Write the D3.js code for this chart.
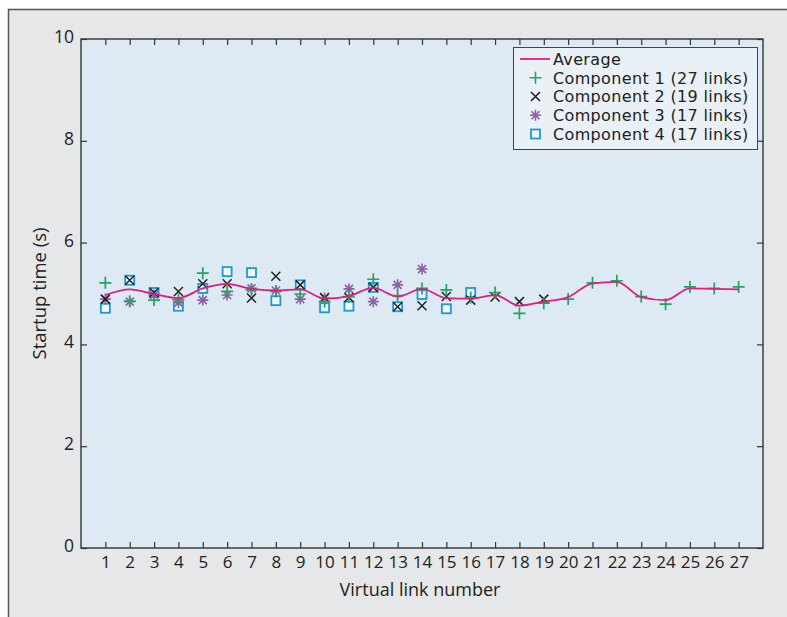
<!DOCTYPE html>
<html>
<head>
<meta charset="utf-8">
<script src="https://cdn.jsdelivr.net/npm/d3@7"></script>
<style>
  body { margin: 0; background: #ffffff; }
  svg { display: block; }
</style>
</head>
<body>
<svg id="chart" width="787" height="617"></svg>
<script>
// Virtual link numbers on the x axis
const links = d3.range(1, 28);
const xTickLabels = links.map(String);
const yTicks = [0, 2, 4, 6, 8, 10];

// Startup time (s), one value per virtual link
const averageTime = [4.97, 5.08, 4.99, 4.91, 5.10, 5.19, 5.09, 5.06, 5.08, 4.90,
                     4.95, 5.11, 4.94, 5.09, 4.91, 4.90, 4.97, 4.76, 4.84, 4.93,
                     5.20, 5.23, 4.93, 4.87, 5.10, 5.09, 5.08];
const component1 = [5.21, 4.85, 4.87, 4.88, 5.40, 5.04, 5.07, 5.04, 4.99, 4.84,
                    4.94, 5.28, 4.96, 5.10, 5.07, 4.92, 5.02, 4.61, 4.81, 4.89,
                    5.21, 5.25, 4.94, 4.79, 5.13, 5.10, 5.13];
const component2 = [4.89, 5.26, 5.02, 5.04, 5.19, 5.19, 4.91, 5.34, 5.17, 4.92,
                    4.92, 5.12, 4.74, 4.76, 4.94, 4.87, 4.93, 4.84, 4.89];
const component3 = [4.89, 4.84, 4.97, 4.82, 4.87, 4.97, 5.10, 5.06, 4.89, 4.91,
                    5.09, 4.84, 5.17, 5.48];
const component4 = [4.71, 5.26, 5.02, 4.75, 5.10, 5.43, 5.41, 4.86, 5.17, 4.72,
                     4.75, 5.12, 4.74, 4.98, 4.70, 5.02];

const legendLabels = ["Average", "Component 1 (27 links)", "Component 2 (19 links)",
                      "Component 3 (17 links)", "Component 4 (17 links)"];

const colors = {
  average: "#e8197d",
  c1: "#1fa55f",
  c2: "#222222",
  c3: "#8c5fa8",
  c4: "#1b9ad6"
};

// marker shapes centred on the origin
const markerPaths = {
  plus: "M-6,0H6M0,-6V6",
  cross: "M-4.5,-4.5L4.5,4.5M-4.5,4.5L4.5,-4.5",
  star: "M-5.5,0H5.5M0,-5.5V5.5M-4,-4L4,4M-4,4L4,-4"
};

const svg = d3.select("#chart");
const bodyFont = "'Open Sans', 'Noto Sans', sans-serif";
const legendFont = "'DejaVu Sans', sans-serif";

// outer panel
svg.append("rect")
  .attr("x", 8.5).attr("y", 9.5)
  .attr("width", 820).attr("height", 640)
  .attr("fill", "#e6e7e8")
  .attr("stroke", "#555")
  .attr("stroke-width", 1.5);

const plot = { left: 81, top: 39, right: 763, bottom: 548 };

const x = d3.scaleLinear().domain([0, 28]).range([plot.left, plot.right]);
const y = d3.scaleLinear().domain([0, 10]).range([plot.bottom, plot.top]);

svg.append("rect")
  .attr("x", plot.left).attr("y", plot.top)
  .attr("width", plot.right - plot.left)
  .attr("height", plot.bottom - plot.top)
  .attr("fill", "#dde9f3");

// axes: inward ticks on all four sides
const bottomAxis = svg.append("g")
  .attr("transform", `translate(0,${plot.bottom})`)
  .call(d3.axisBottom(x).tickValues(links).tickFormat((d, i) => xTickLabels[i])
        .tickSizeInner(-6).tickSizeOuter(0).tickPadding(8));
bottomAxis.selectAll("text")
  .attr("font-family", bodyFont)
  .attr("font-size", 17)
  .attr("fill", "#222");

svg.append("g")
  .attr("transform", `translate(0,${plot.top})`)
  .call(d3.axisTop(x).tickValues(links).tickFormat("")
        .tickSizeInner(-6).tickSizeOuter(0));

const leftAxis = svg.append("g")
  .attr("transform", `translate(${plot.left},0)`)
  .call(d3.axisLeft(y).tickValues(yTicks).tickFormat(d3.format("d"))
        .tickSizeInner(-6).tickSizeOuter(0).tickPadding(7));
leftAxis.selectAll("text")
  .attr("font-family", bodyFont)
  .attr("font-size", 17.5)
  .attr("dy", "0.2em")
  .attr("fill", "#222");

svg.append("g")
  .attr("transform", `translate(${plot.right},0)`)
  .call(d3.axisRight(y).tickValues(yTicks).tickFormat("")
        .tickSizeInner(-6).tickSizeOuter(0));

svg.selectAll(".domain").remove();
svg.selectAll(".tick line").attr("stroke", "#333").attr("stroke-width", 1.2);

// plot frame
svg.append("rect")
  .attr("x", plot.left).attr("y", plot.top)
  .attr("width", plot.right - plot.left)
  .attr("height", plot.bottom - plot.top)
  .attr("fill", "none")
  .attr("stroke", "#333")
  .attr("stroke-width", 1.4);

// axis titles
svg.append("text")
  .attr("x", 420)
  .attr("y", 596)
  .attr("text-anchor", "middle")
  .attr("font-family", bodyFont)
  .attr("font-size", 18)
  .attr("fill", "#222")
  .text("Virtual link number");

svg.append("text")
  .attr("transform", `translate(46,${(plot.top + plot.bottom) / 2}) rotate(-90)`)
  .attr("text-anchor", "middle")
  .attr("font-family", bodyFont)
  .attr("font-size", 18.5)
  .attr("fill", "#222")
  .text("Startup time (s)");

// data layers
const layer = svg.append("g");

// component 4: open squares
layer.append("g").selectAll("rect")
  .data(component4)
  .join("rect")
  .attr("x", (d, i) => x(links[i]) - 4.5)
  .attr("y", d => y(d) - 4.5)
  .attr("width", 9).attr("height", 9)
  .attr("fill", "#f3f7fb")
  .attr("stroke", colors.c4)
  .attr("stroke-width", 1.8);

function drawMarkers(values, shape, color, width) {
  layer.append("g").selectAll("path")
    .data(values)
    .join("path")
    .attr("transform", (d, i) => `translate(${x(links[i])},${y(d)})`)
    .attr("d", markerPaths[shape])
    .attr("fill", "none")
    .attr("stroke", color)
    .attr("stroke-width", width);
}

drawMarkers(component3, "star", colors.c3, 1.6);
drawMarkers(component2, "cross", colors.c2, 1.5);
drawMarkers(component1, "plus", colors.c1, 1.7);

// average startup time
const line = d3.line()
  .x((d, i) => x(links[i]))
  .y(d => y(d))
  .curve(d3.curveMonotoneX);

layer.append("path")
  .datum(averageTime)
  .attr("d", line)
  .attr("fill", "none")
  .attr("stroke", colors.average)
  .attr("stroke-width", 1.8);

// legend
const legend = svg.append("g");
legend.append("rect")
  .attr("x", 513.5).attr("y", 47.5)
  .attr("width", 244).attr("height", 102)
  .attr("fill", "#e9f0f6")
  .attr("stroke", "#444")
  .attr("stroke-width", 1);

const rowY = d3.scalePoint().domain(legendLabels).range([59, 134]);
const legendShapes = [null, "plus", "cross", "star", "square"];
const legendColors = [colors.average, colors.c1, colors.c2, colors.c3, colors.c4];

legendLabels.forEach((label, i) => {
  const cy = rowY(label);
  const shape = legendShapes[i];
  if (shape === null) {
    legend.append("line")
      .attr("x1", 520).attr("x2", 550)
      .attr("y1", cy).attr("y2", cy)
      .attr("stroke", legendColors[i]).attr("stroke-width", 1.8);
  } else if (shape === "square") {
    legend.append("rect")
      .attr("x", 531).attr("y", cy - 4.5)
      .attr("width", 9).attr("height", 9)
      .attr("fill", "#f3f7fb")
      .attr("stroke", legendColors[i]).attr("stroke-width", 1.8);
  } else {
    legend.append("path")
      .attr("transform", `translate(535.5,${cy})`)
      .attr("d", markerPaths[shape])
      .attr("fill", "none")
      .attr("stroke", legendColors[i])
      .attr("stroke-width", 1.6);
  }
  legend.append("text")
    .attr("x", 553).attr("y", cy)
    .attr("dy", "0.36em")
    .attr("font-family", legendFont)
    .attr("font-size", 16)
    .attr("letter-spacing", 0.35)
    .attr("fill", "#222")
    .text(label);
});
</script>
</body>
</html>
